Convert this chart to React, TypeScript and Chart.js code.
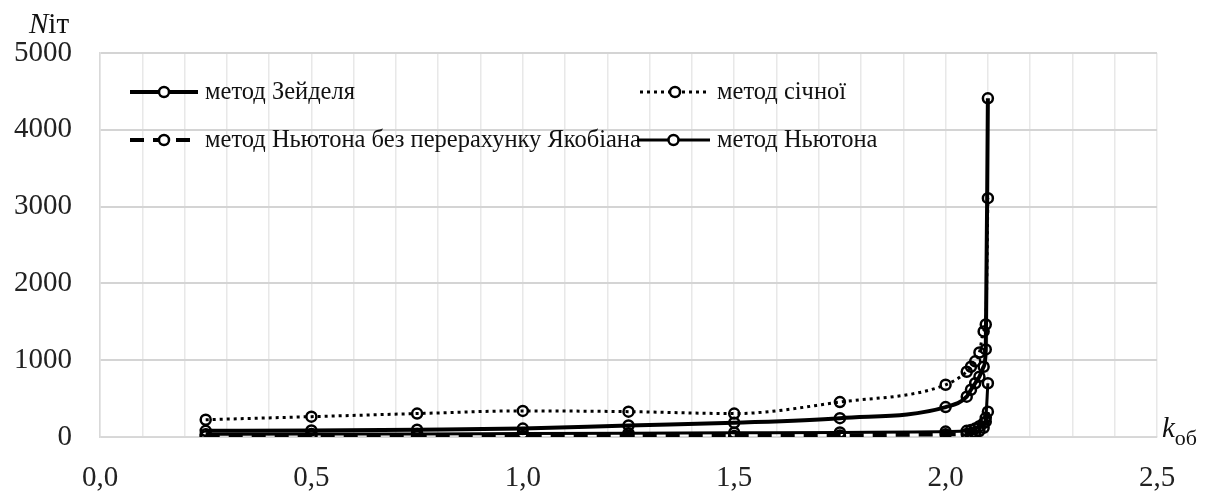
import React, { useEffect, useRef } from "react";
import { Chart, registerables } from "chart.js";

Chart.register(...registerables);

const kValues = [0.25, 0.5, 0.75, 1.0, 1.25, 1.5, 1.75, 2.0, 2.05, 2.06, 2.07, 2.08, 2.09, 2.095, 2.1];
const seidelIters = [80, 85, 95, 110, 150, 185, 245, 390, 525, 615, 700, 785, 915, 1140, 4410];
const secantIters = [225, 265, 305, 340, 330, 305, 455, 680, 850, 915, 985, 1100, 1375, 1465, 3110];
const newtonNoJacIters = [10, 10, 10, 12, 12, 12, 20, 35, 40, 50, 60, 80, 120, 200, 330];
const newtonIters = [35, 38, 40, 45, 50, 55, 60, 70, 80, 90, 110, 140, 180, 250, 700];

const seriesLabels = [
  "метод Зейделя",
  "метод січної",
  "метод Ньютона без перерахунку Якобіана",
  "метод Ньютона",
];
const yTicks = [0, 1000, 2000, 3000, 4000, 5000];
const xLabelStep = 0.5;
const yAxisTitleItalic = "N";
const yAxisTitleRest = "іт";
const xAxisTitleItalic = "k";
const xAxisTitleSub = "об";

const FONT = "'Liberation Serif', 'Times New Roman', serif";

const toPoints = (ys: number[]) => ys.map((y, i) => ({ x: kValues[i], y }));

const legendPositions = [
  { x1: 130, x2: 198, tx: 205, y: 92 },
  { x1: 640, x2: 710, tx: 717, y: 92 },
  { x1: 130, x2: 198, tx: 205, y: 140 },
  { x1: 637, x2: 710, tx: 717, y: 140 },
];

const overlayPlugin = {
  id: "overlay",
  afterDraw(chart: any) {
    const ctx = chart.ctx as CanvasRenderingContext2D;
    ctx.save();
    // legend
    chart.data.datasets.forEach((ds: any, i: number) => {
      const p = legendPositions[i];
      ctx.strokeStyle = "#000";
      ctx.lineWidth = ds.borderWidth;
      ctx.setLineDash(ds.borderDash || []);
      ctx.lineCap = "butt";
      ctx.beginPath();
      ctx.moveTo(p.x1, p.y);
      ctx.lineTo(p.x2, p.y);
      ctx.stroke();
      ctx.setLineDash([]);
      ctx.lineWidth = ds.pointBorderWidth;
      ctx.beginPath();
      ctx.arc((p.x1 + p.x2) / 2, p.y, ds.pointRadius, 0, Math.PI * 2);
      ctx.fillStyle = "#fff";
      ctx.fill();
      ctx.stroke();
      ctx.fillStyle = "#111";
      ctx.font = `24.5px ${FONT}`;
      ctx.textBaseline = "middle";
      ctx.textAlign = "left";
      ctx.fillText(ds.label, p.tx, p.y + 1);
    });
    // y axis title
    ctx.fillStyle = "#111";
    ctx.textBaseline = "alphabetic";
    ctx.font = `italic 29px ${FONT}`;
    ctx.fillText(yAxisTitleItalic, 29, 33);
    const w = ctx.measureText(yAxisTitleItalic).width;
    ctx.font = `29px ${FONT}`;
    ctx.fillText(yAxisTitleRest, 29 + w, 33);
    // x axis title
    ctx.font = `italic 29px ${FONT}`;
    ctx.fillText(xAxisTitleItalic, 1162, 437);
    const kw = ctx.measureText(xAxisTitleItalic).width;
    ctx.font = `22px ${FONT}`;
    ctx.fillText(xAxisTitleSub, 1162 + kw, 445);
    ctx.restore();
  },
};

export default function App() {
  const ref = useRef<HTMLCanvasElement | null>(null);
  useEffect(() => {
    document.body.style.margin = "0";
    const canvas = ref.current!;
    const common = {
      borderColor: "#000",
      pointBorderColor: "#000",
      pointBackgroundColor: "rgba(0,0,0,0)",
      pointRadius: 5,
      pointBorderWidth: 2.5,
      cubicInterpolationMode: "monotone" as const,
      fill: false,
    };
    const chart = new Chart(canvas, {
      type: "line",
      data: {
        datasets: [
          { ...common, label: seriesLabels[0], data: toPoints(seidelIters), borderWidth: 4 },
          { ...common, label: seriesLabels[1], data: toPoints(secantIters), borderWidth: 3, borderDash: [3, 4] },
          { ...common, label: seriesLabels[2], data: toPoints(newtonNoJacIters), borderWidth: 4, borderDash: [14, 9] },
          { ...common, label: seriesLabels[3], data: toPoints(newtonIters), borderWidth: 3 },
        ],
      },
      options: {
        responsive: false,
        animation: false,
        layout: { padding: { top: 53, right: 52, bottom: 0, left: 0 } },
        plugins: { legend: { display: false }, tooltip: { enabled: false } },
        scales: {
          x: {
            type: "linear",
            min: 0,
            max: 2.5,
            afterFit: (s: any) => {
              s.height = 58;
            },
            ticks: {
              stepSize: 0.1,
              autoSkip: false,
              maxRotation: 0,
              padding: 24,
              color: "#222",
              font: { family: FONT, size: 29 },
              callback: (v: any) => {
                const n = Number(v);
                const r = n / xLabelStep;
                return Math.abs(r - Math.round(r)) < 1e-6 ? n.toFixed(1).replace(".", ",") : "";
              },
            },
            grid: { color: "#e8e8e8", lineWidth: 1.5, drawTicks: false },
            border: { color: "#d9d9d9", width: 1.5 },
          },
          y: {
            min: 0,
            max: 5000,
            afterFit: (s: any) => {
              s.width = 100;
            },
            afterBuildTicks: (s: any) => {
              s.ticks = yTicks.map((v) => ({ value: v }));
            },
            ticks: {
              padding: 28,
              color: "#222",
              font: { family: FONT, size: 29 },
              callback: (v: any) => String(v),
            },
            grid: { color: "#d4d4d4", lineWidth: 2, drawTicks: false },
            border: { color: "#d9d9d9", width: 1.5 },
          },
        },
      },
      plugins: [overlayPlugin],
    });
    return () => chart.destroy();
  }, []);
  return (
    <div style={{ width: 1209, height: 495 }}>
      <canvas ref={ref} width={1209} height={495} />
    </div>
  );
}
